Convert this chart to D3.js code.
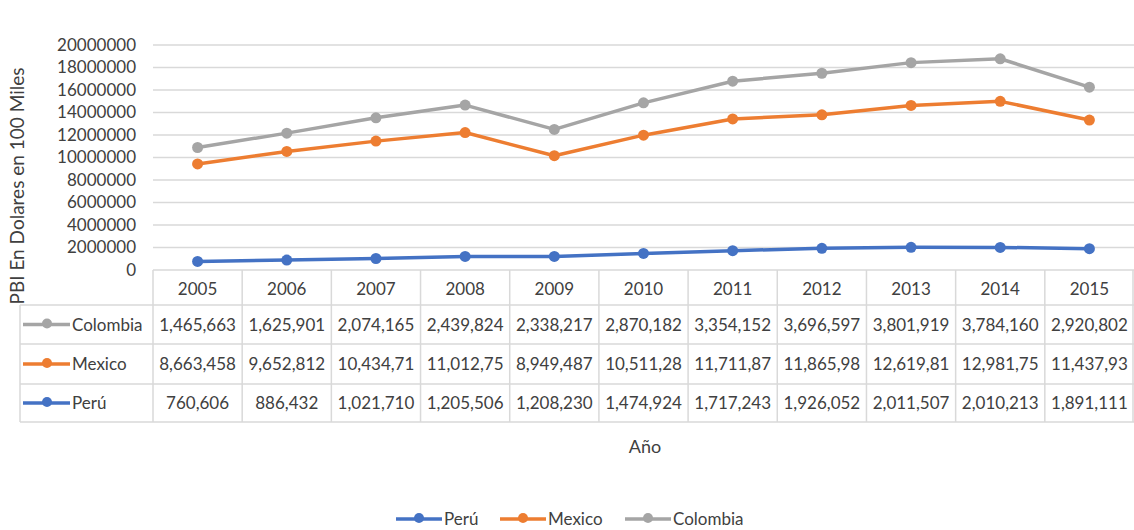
<!DOCTYPE html>
<html><head><meta charset="utf-8">
<script src="https://cdn.jsdelivr.net/npm/d3@7"></script>
<style>body{margin:0;background:#fff}svg{display:block}</style>
</head><body>
<svg id="c" width="1134" height="530"></svg>
<script>
const years = ["2005","2006","2007","2008","2009","2010","2011","2012","2013","2014","2015"];
const peru = [760606,886432,1021710,1205506,1208230,1474924,1717243,1926052,2011507,2010213,1891111];
const mexico = [8663458,9652812,10434710,11012750,8949487,10511280,11711870,11865980,12619810,12981750,11437930];
const colombia = [1465663,1625901,2074165,2439824,2338217,2870182,3354152,3696597,3801919,3784160,2920802];
const yTicks = [0,2000000,4000000,6000000,8000000,10000000,12000000,14000000,16000000,18000000,20000000];
const seriesNames = ["Perú","Mexico","Colombia"];
const colors = {"Perú":"#4472C4","Mexico":"#ED7D31","Colombia":"#A5A5A5"};

const svg = d3.select("#c");
const font = "Lato, 'Open Sans', sans-serif";
const txt = "#404040";
const grid = "#d9d9d9";

const x = d3.scaleBand().domain(years).range([153,1134]).padding(0);
const y = d3.scaleLinear().domain([0,20000000]).range([270,45]);

const stacked = d3.stack().keys(seriesNames)(years.map((yr,i)=>({year:yr,"Perú":peru[i],"Mexico":mexico[i],"Colombia":colombia[i]})));

svg.append("g").selectAll("line").data(yTicks.slice(1)).join("line")
  .attr("x1",153).attr("x2",1134).attr("y1",d=>y(d)).attr("y2",d=>y(d))
  .attr("stroke",grid).attr("stroke-width",1.5);

const yAxis = svg.append("g").attr("transform","translate(140,0)")
  .call(d3.axisLeft(y).tickValues(yTicks).tickSize(0).tickPadding(0).tickFormat(d3.format("d")));
yAxis.select(".domain").remove();
yAxis.selectAll("text").attr("font-family",font).attr("font-size",17).attr("fill",txt).attr("x",-4);

svg.append("text").attr("transform","translate(24,186) rotate(-90)")
  .attr("text-anchor","middle").attr("font-family",font).attr("font-size",19).attr("fill",txt)
  .text("PBI En Dolares en 100 Miles");

const tTop = 270, hdrB = 305, rowBs = [344,384,422];
const tg = svg.append("g");
tg.append("line").attr("x1",153).attr("x2",1134).attr("y1",tTop).attr("y2",tTop).attr("stroke",grid).attr("stroke-width",1.5);
[hdrB].concat(rowBs).forEach(yy=>{
  tg.append("line").attr("x1",20).attr("x2",1134).attr("y1",yy).attr("y2",yy).attr("stroke",grid).attr("stroke-width",1.5);
});
tg.append("line").attr("x1",20).attr("x2",20).attr("y1",hdrB).attr("y2",rowBs[2]).attr("stroke",grid).attr("stroke-width",1.5);
years.forEach(yr=>{
  tg.append("line").attr("x1",x(yr)).attr("x2",x(yr)).attr("y1",tTop).attr("y2",rowBs[2]).attr("stroke",grid).attr("stroke-width",1.5);
});
tg.append("line").attr("x1",1133).attr("x2",1133).attr("y1",tTop).attr("y2",rowBs[2]).attr("stroke",grid).attr("stroke-width",1.5);

tg.selectAll("text.yr").data(years).join("text").attr("class","yr")
  .attr("x",d=>x(d)+x.bandwidth()/2).attr("y",(tTop+hdrB)/2+7)
  .attr("text-anchor","middle").attr("font-family",font).attr("font-size",17).attr("fill",txt).text(d=>d);

const fmt = d3.format(",");
const rows = [{name:"Colombia",vals:colombia},{name:"Mexico",vals:mexico},{name:"Perú",vals:peru}];
const rowTops = [hdrB, rowBs[0], rowBs[1]], rowBots = rowBs;
rows.forEach((r,ri)=>{
  const cy = (rowTops[ri]+rowBots[ri])/2;
  tg.append("line").attr("x1",23).attr("x2",70).attr("y1",cy).attr("y2",cy).attr("stroke",colors[r.name]).attr("stroke-width",3.5);
  tg.append("circle").attr("cx",47).attr("cy",cy-1).attr("r",5).attr("fill",colors[r.name]);
  tg.append("text").attr("x",72).attr("y",cy+6).attr("font-family",font).attr("font-size",17).attr("fill",txt).text(r.name);
  tg.selectAll(null).data(r.vals).join("text")
    .attr("x",(d,i)=>x(years[i])+x.bandwidth()/2).attr("y",cy+6)
    .attr("text-anchor","middle").attr("font-family",font).attr("font-size",17).attr("fill",txt)
    .text(d=>fmt(d).slice(0,9));
});

const line = d3.line().x((d,i)=>x(years[i])+x.bandwidth()/2).y(d=>y(d[1]));
stacked.slice().reverse().forEach(s=>{
  svg.append("path").datum(s).attr("d",line).attr("fill","none")
    .attr("stroke",colors[s.key]).attr("stroke-width",3.5).attr("stroke-linejoin","round");
  svg.append("g").selectAll("circle").data(s).join("circle")
    .attr("cx",(d,i)=>x(years[i])+x.bandwidth()/2).attr("cy",d=>y(d[1])).attr("r",5.5)
    .attr("fill",colors[s.key]);
});

svg.append("text").attr("x",645).attr("y",453).attr("text-anchor","middle")
  .attr("font-family",font).attr("font-size",18).attr("fill",txt).text("Año");

const lg = svg.append("g");
const legX = [396,500,625];
seriesNames.forEach((n,i)=>{
  const lx = legX[i];
  lg.append("line").attr("x1",lx).attr("x2",lx+46).attr("y1",519).attr("y2",519).attr("stroke",colors[n]).attr("stroke-width",3.5);
  lg.append("circle").attr("cx",lx+23).attr("cy",518).attr("r",5).attr("fill",colors[n]);
  lg.append("text").attr("x",lx+48).attr("y",525).attr("font-family",font).attr("font-size",17).attr("fill",txt).text(n);
});
</script>
</body></html>
